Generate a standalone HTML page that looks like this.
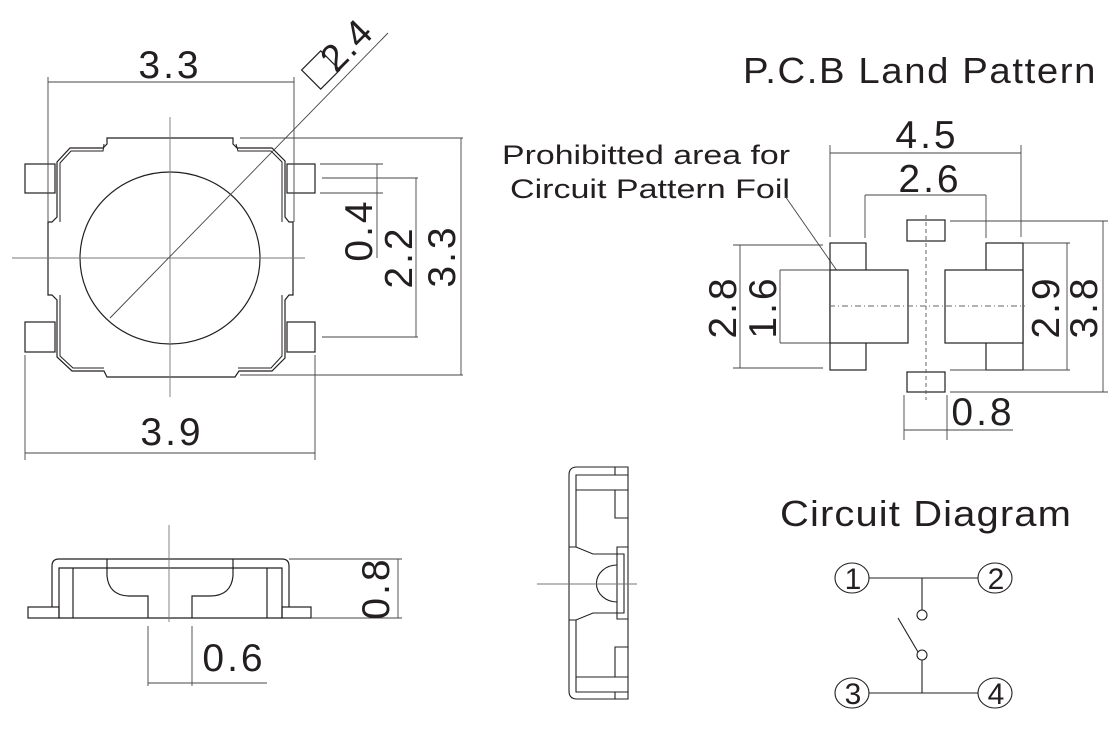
<!DOCTYPE html>
<html><head><meta charset="utf-8"><style>
html,body{margin:0;padding:0;background:#fff;}
svg{display:block;}
text{font-family:"Liberation Sans",Arial,sans-serif;fill:#231f20;}
</style></head><body>
<svg width="1120" height="741" viewBox="0 0 1120 741" xmlns="http://www.w3.org/2000/svg">
<g fill="none" stroke="#231f20" stroke-width="1.2">
<path d="M107,138 L233,138 L233,144 L237,148 L272,148 L285,161 L285,217 L289,222 L293,222 L293,295 L289,295 L285,300 L285,358 L272,371 L239,371 L235,377 L107,377 L104,371 L72,371 L57,357 L57,300 L52,295 L48,295 L48,222 L52,222 L57,217 L57,162 L70,148 L103,148 L107,144 Z"/>
<path d="M104,144 L103,151 L71,151 L60,163 L60,222 M236,144 L238,151 L271,151 L282,162 L282,222 M60,295 L60,356 L73,368 L104,368 M282,295 L282,356 L271,368 L238,368" stroke-width="1"/>
<rect x="25" y="164" width="30" height="29"/>
<rect x="25" y="322" width="30" height="30"/>
<rect x="287" y="164" width="28" height="29"/>
<rect x="287" y="322" width="28" height="30"/>
<ellipse cx="170" cy="258" rx="90" ry="86"/>
</g>
<g stroke="#777" stroke-width="0.9" fill="none">
<line x1="12" y1="258" x2="305" y2="258"/>
<line x1="170" y1="117" x2="170" y2="397"/>
</g>
<g stroke="#444" stroke-width="0.9" fill="none">
<line x1="110" y1="318" x2="388" y2="33"/>
<line x1="48" y1="82" x2="294" y2="82"/>
<line x1="48" y1="77" x2="48" y2="222"/>
<line x1="294" y1="77" x2="294" y2="222"/>
<line x1="25" y1="453" x2="315" y2="453"/>
<line x1="25" y1="355" x2="25" y2="460"/>
<line x1="315" y1="355" x2="315" y2="460"/>
<line x1="240" y1="138" x2="463" y2="138"/>
<line x1="240" y1="375" x2="463" y2="375"/>
<line x1="461" y1="138" x2="461" y2="375"/>
<line x1="322" y1="178" x2="418" y2="178"/>
<line x1="322" y1="337" x2="418" y2="337"/>
<line x1="416" y1="178" x2="416" y2="337"/>
<line x1="320" y1="164" x2="383" y2="164"/>
<line x1="320" y1="193" x2="383" y2="193"/>
<line x1="377" y1="164" x2="377" y2="258"/>
</g>
<rect x="307" y="57" width="27" height="27" transform="rotate(-45 320 70)" fill="none" stroke="#231f20" stroke-width="1.2"/>
<text x="0" y="0" font-size="38" letter-spacing="1" transform="translate(336,74) rotate(-45)">2.4</text>
<text x="170" y="78" font-size="39" text-anchor="middle" letter-spacing="3">3.3</text>
<text x="172" y="445" font-size="39" text-anchor="middle" letter-spacing="3">3.9</text>
<text font-size="39" text-anchor="middle" letter-spacing="3" transform="translate(455,256) rotate(-90)">3.3</text>
<text font-size="39" text-anchor="middle" letter-spacing="3" transform="translate(412,257) rotate(-90)">2.2</text>
<text font-size="39" text-anchor="middle" letter-spacing="3" transform="translate(372,230) rotate(-90)">0.4</text>

<g fill="none" stroke="#231f20" stroke-width="1.2">
<path d="M52,607 L52,566 Q52,559 59,559 L282,559 Q289,559 289,566 L289,607"/>
<path d="M59,618 L59,568 L282,568 L282,618 Z"/>
<rect x="28" y="607" width="31" height="11"/>
<rect x="282" y="607" width="29" height="11"/>
<line x1="73" y1="568" x2="73" y2="618"/>
<line x1="267" y1="568" x2="267" y2="618"/>
<path d="M107,559 L107,576 Q109,596 130,596 L148,596 L148,618"/>
<path d="M233,559 L233,576 Q231,596 210,596 L192,596 L192,618"/>
</g>
<g stroke="#444" stroke-width="0.9" fill="none">
<line x1="169" y1="525" x2="169" y2="622" stroke="#777"/>
<line x1="289" y1="559" x2="402" y2="559"/>
<line x1="311" y1="618" x2="402" y2="618"/>
<line x1="398" y1="559" x2="398" y2="618"/>
<line x1="148" y1="626" x2="148" y2="686"/>
<line x1="192" y1="626" x2="192" y2="686"/>
<line x1="148" y1="683" x2="267" y2="683"/>
</g>
<text font-size="39" text-anchor="middle" letter-spacing="3" transform="translate(389,588) rotate(-90)">0.8</text>
<text x="234" y="671" font-size="39" text-anchor="middle" letter-spacing="3">0.6</text>

<g fill="none" stroke="#231f20" stroke-width="1.1">
<path d="M628,467 L577,467 Q569,467 569,475 L569,691 Q569,699 577,699 L628,699 Z"/>
<path d="M576,547 L576,475 L628,475 M576,490 L628,490 M615,467 L615,475 M615,490 L615,518 L628,518"/>
<path d="M576,620 L576,692 L628,692 M576,677 L628,677 M615,692 L615,699 M615,677 L615,647 L628,647"/>
<path d="M569,547 L576,547 L593,554 L624,554 L624,613 L593,613 L576,620 L569,620"/>
<path d="M628,547 L617,547 L617,619 L628,619"/>
<path d="M617,565 A20,18 0 0 0 617,602"/>
</g>
<line x1="537" y1="584" x2="637" y2="584" stroke="#777" stroke-width="0.9"/>

<text x="743" y="83" font-size="36" letter-spacing="1.5" textLength="354" lengthAdjust="spacingAndGlyphs">P.C.B Land Pattern</text>
<text x="502" y="164" font-size="27" textLength="288" lengthAdjust="spacingAndGlyphs">Prohibitted area for</text>
<text x="510" y="198" font-size="27" textLength="280" lengthAdjust="spacingAndGlyphs">Circuit Pattern Foil</text>
<line x1="785" y1="196" x2="842" y2="278" stroke="#444" stroke-width="0.9"/>
<g fill="none" stroke="#231f20" stroke-width="1.2">
<rect x="830" y="243" width="36" height="127"/>
<rect x="830" y="270" width="78" height="73" fill="#fff"/>
<rect x="986" y="243" width="37" height="127"/>
<rect x="945" y="270" width="78" height="73" fill="#fff"/>
<rect x="907" y="220" width="38" height="21"/>
<rect x="907" y="372" width="38" height="20"/>
</g>
<line x1="926" y1="215" x2="926" y2="400" stroke="#555" stroke-width="0.9" stroke-dasharray="4,3"/>
<line x1="829" y1="306" x2="1025" y2="306" stroke="#666" stroke-width="0.9" stroke-dasharray="6,3,1,3"/>
<g stroke="#444" stroke-width="0.9" fill="none">
<line x1="830" y1="153" x2="1021" y2="153"/>
<line x1="830" y1="145" x2="830" y2="237"/>
<line x1="1021" y1="145" x2="1021" y2="237"/>
<line x1="865" y1="195" x2="986" y2="195"/>
<line x1="865" y1="195" x2="865" y2="238"/>
<line x1="986" y1="195" x2="986" y2="238"/>
<line x1="733" y1="245" x2="823" y2="245"/>
<line x1="733" y1="368" x2="823" y2="368"/>
<line x1="740" y1="245" x2="740" y2="368"/>
<line x1="780" y1="270" x2="830" y2="270"/>
<line x1="780" y1="343" x2="830" y2="343"/>
<line x1="780" y1="270" x2="780" y2="343"/>
<line x1="1023" y1="243" x2="1070" y2="243"/>
<line x1="950" y1="370" x2="1070" y2="370"/>
<line x1="1067" y1="243" x2="1067" y2="370"/>
<line x1="950" y1="221" x2="1108" y2="221"/>
<line x1="950" y1="392" x2="1108" y2="392"/>
<line x1="1103" y1="221" x2="1103" y2="392"/>
<line x1="904" y1="395" x2="904" y2="440"/>
<line x1="947" y1="395" x2="947" y2="440"/>
<line x1="904" y1="430" x2="1013" y2="430"/>
</g>
<text x="927" y="148" font-size="39" text-anchor="middle" letter-spacing="3">4.5</text>
<text x="930" y="192" font-size="39" text-anchor="middle" letter-spacing="3">2.6</text>
<text x="983" y="425" font-size="39" text-anchor="middle" letter-spacing="3">0.8</text>
<text font-size="39" text-anchor="middle" letter-spacing="3" transform="translate(736,307) rotate(-90)">2.8</text>
<text font-size="39" text-anchor="middle" letter-spacing="3" transform="translate(776,307) rotate(-90)">1.6</text>
<text font-size="39" text-anchor="middle" letter-spacing="3" transform="translate(1059,307) rotate(-90)">2.9</text>
<text font-size="39" text-anchor="middle" letter-spacing="3" transform="translate(1097,307) rotate(-90)">3.8</text>

<text x="780" y="526" font-size="36" letter-spacing="1" textLength="292" lengthAdjust="spacingAndGlyphs">Circuit Diagram</text>
<g fill="none" stroke="#231f20" stroke-width="1.1">
<ellipse cx="852" cy="578" rx="17" ry="15"/>
<ellipse cx="995" cy="578" rx="17" ry="15"/>
<ellipse cx="852" cy="693" rx="17" ry="15"/>
<ellipse cx="995" cy="693" rx="17" ry="15"/>
<line x1="869" y1="578" x2="978" y2="578"/>
<line x1="869" y1="693" x2="978" y2="693"/>
<line x1="922" y1="578" x2="922" y2="610"/>
<circle cx="922" cy="615" r="5"/>
<circle cx="922" cy="655" r="5"/>
<line x1="922" y1="660" x2="922" y2="693"/>
<line x1="898" y1="618" x2="918" y2="652"/>
</g>
<g font-size="30" text-anchor="middle">
<text x="853" y="589">1</text>
<text x="996" y="589">2</text>
<text x="853" y="704">3</text>
<text x="996" y="704">4</text>
</g>
</svg>
</body></html>
